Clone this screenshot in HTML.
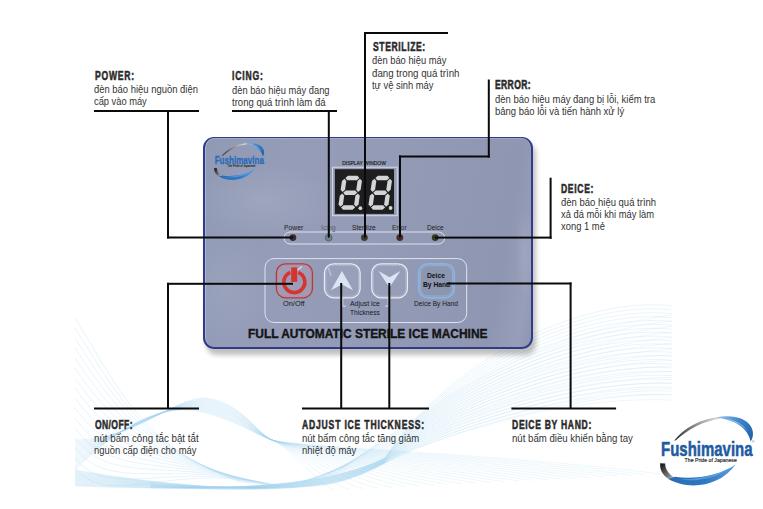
<!DOCTYPE html>
<html><head><meta charset="utf-8">
<style>
html,body{margin:0;padding:0;background:#fff;}
body{width:763px;height:509px;position:relative;overflow:hidden;font-family:"Liberation Sans",sans-serif;}
.abs{position:absolute;}
svg{position:absolute;left:0;top:0;}
.h{position:absolute;font-weight:bold;font-size:13px;line-height:13px;color:#2a2a2a;transform-origin:0 0;white-space:nowrap;letter-spacing:0;-webkit-text-stroke:0.55px #2a2a2a;}
.t{position:absolute;font-size:10.5px;line-height:10.5px;color:#333;transform-origin:0 0;white-space:nowrap;}
#panel{position:absolute;left:203px;top:136.9px;width:326px;height:209px;border:2px solid #303c88;border-top-width:1.5px;border-radius:11px;
 background:radial-gradient(ellipse 22% 18% at 18% 30%,rgba(255,255,255,0.10),rgba(255,255,255,0) 100%),radial-gradient(ellipse 14% 30% at 6% 72%,rgba(255,255,255,0.07),rgba(255,255,255,0) 100%),radial-gradient(ellipse 3% 22% at 98% 55%,rgba(255,255,255,0.10),rgba(255,255,255,0) 100%),linear-gradient(100deg,#919ab5 0%,#949cb7 25%,#939bb6 50%,#9098b3 72%,#8f96b2 88%,#989eb9 96%,#8e95b0 100%);
 box-shadow:3px 6px 5px rgba(0,0,0,0.25), inset 1px 0 0 rgba(190,198,240,0.55), inset 0 1px 0 rgba(190,198,240,0.35);}
.pl{position:absolute;white-space:nowrap;transform-origin:0 0;}
</style></head><body>

<!-- background waves -->
<svg id="waves" width="763" height="509" viewBox="0 0 763 509">
 <defs><clipPath id="wc"><rect x="74" y="280" width="600" height="211"/></clipPath></defs>
 <g fill="none" clip-path="url(#wc)" id="wg">
<path d="M75.0,318.0 C120.0,390.0 140.0,445.0 240.0,482.0" stroke="#9fd2ee" stroke-width="0.5" stroke-opacity="0.5"/>
<path d="M75.0,328.0 C119.3,398.0 142.0,446.0 242.7,482.3" stroke="#9fd2ee" stroke-width="0.5" stroke-opacity="0.5"/>
<path d="M75.0,338.0 C118.7,406.0 144.0,447.0 245.3,482.5" stroke="#9fd2ee" stroke-width="0.5" stroke-opacity="0.5"/>
<path d="M75.0,348.0 C118.0,414.0 146.0,448.0 248.0,482.8" stroke="#9fd2ee" stroke-width="0.5" stroke-opacity="0.5"/>
<path d="M75.0,358.0 C117.3,422.0 148.0,449.0 250.7,483.1" stroke="#9fd2ee" stroke-width="0.5" stroke-opacity="0.5"/>
<path d="M75.0,368.0 C116.7,430.0 150.0,450.0 253.3,483.3" stroke="#9fd2ee" stroke-width="0.5" stroke-opacity="0.5"/>
<path d="M75.0,378.0 C116.0,438.0 152.0,451.0 256.0,483.6" stroke="#9fd2ee" stroke-width="0.5" stroke-opacity="0.5"/>
<path d="M75.0,388.0 C115.3,446.0 154.0,452.0 258.7,483.9" stroke="#9fd2ee" stroke-width="0.5" stroke-opacity="0.5"/>
<path d="M75.0,398.0 C114.7,454.0 156.0,453.0 261.3,484.1" stroke="#9fd2ee" stroke-width="0.5" stroke-opacity="0.5"/>
<path d="M75.0,408.0 C114.0,462.0 158.0,454.0 264.0,484.4" stroke="#9fd2ee" stroke-width="0.5" stroke-opacity="0.5"/>
<path d="M75.0,418.0 C113.3,470.0 160.0,455.0 266.7,484.7" stroke="#9fd2ee" stroke-width="0.5" stroke-opacity="0.5"/>
<path d="M75.0,428.0 C112.7,478.0 162.0,456.0 269.3,484.9" stroke="#9fd2ee" stroke-width="0.5" stroke-opacity="0.5"/>
<path d="M75.0,438.0 C112.0,486.0 164.0,457.0 272.0,485.2" stroke="#9fd2ee" stroke-width="0.5" stroke-opacity="0.5"/>
<path d="M75.0,448.0 C111.3,494.0 166.0,458.0 274.7,485.5" stroke="#9fd2ee" stroke-width="0.5" stroke-opacity="0.5"/>
<path d="M75.0,458.0 C110.7,502.0 168.0,459.0 277.3,485.7" stroke="#9fd2ee" stroke-width="0.5" stroke-opacity="0.5"/>
<path d="M75.0,468.0 C110.0,510.0 170.0,460.0 280.0,486.0" stroke="#9fd2ee" stroke-width="0.5" stroke-opacity="0.5"/>
<path d="M75.0,440.0 C140.0,440.0 180.0,390.0 213.0,399.0 S255.0,431.5 272.0,440.0 C290.0,447.0 320.0,486.0 335.0,490.0" stroke="#9fd2ee" stroke-width="0.45" stroke-opacity="0.4"/>
<path d="M75.0,441.3 C140.0,438.5 180.0,390.6 213.0,399.7 S255.0,431.6 272.0,440.0 C290.0,447.0 328.7,484.7 349.1,489.3" stroke="#9fd2ee" stroke-width="0.45" stroke-opacity="0.4"/>
<path d="M75.0,442.6 C140.0,437.0 180.0,391.2 213.0,400.4 S255.0,431.8 272.0,440.0 C290.0,447.0 337.4,483.3 363.3,488.6" stroke="#9fd2ee" stroke-width="0.45" stroke-opacity="0.4"/>
<path d="M75.0,443.9 C140.0,435.6 180.0,391.8 213.0,401.1 S255.0,431.9 272.0,440.0 C290.0,447.0 346.1,482.0 377.4,487.9" stroke="#9fd2ee" stroke-width="0.45" stroke-opacity="0.4"/>
<path d="M75.0,445.2 C140.0,434.1 180.0,392.4 213.0,401.8 S255.0,432.0 272.0,440.0 C290.0,447.0 354.8,480.6 391.5,487.2" stroke="#9fd2ee" stroke-width="0.45" stroke-opacity="0.4"/>
<path d="M75.0,446.5 C140.0,432.6 180.0,393.0 213.0,402.5 S255.0,432.2 272.0,440.0 C290.0,447.0 363.5,479.3 405.7,486.5" stroke="#9fd2ee" stroke-width="0.45" stroke-opacity="0.4"/>
<path d="M75.0,447.8 C140.0,431.1 180.0,393.7 213.0,403.2 S255.0,432.3 272.0,440.0 C290.0,447.0 372.2,477.9 419.8,485.8" stroke="#9fd2ee" stroke-width="0.45" stroke-opacity="0.4"/>
<path d="M75.0,449.1 C140.0,429.7 180.0,394.3 213.0,403.9 S255.0,432.4 272.0,440.0 C290.0,447.0 380.9,476.6 433.9,485.1" stroke="#9fd2ee" stroke-width="0.45" stroke-opacity="0.4"/>
<path d="M75.0,450.4 C140.0,428.2 180.0,394.9 213.0,404.6 S255.0,432.5 272.0,440.0 C290.0,447.0 389.6,475.2 448.0,484.4" stroke="#9fd2ee" stroke-width="0.45" stroke-opacity="0.4"/>
<path d="M75.0,451.7 C140.0,426.7 180.0,395.5 213.0,405.3 S255.0,432.7 272.0,440.0 C290.0,447.0 398.3,473.9 462.2,483.7" stroke="#9fd2ee" stroke-width="0.45" stroke-opacity="0.4"/>
<path d="M75.0,453.0 C140.0,425.2 180.0,396.1 213.0,406.0 S255.0,432.8 272.0,440.0 C290.0,447.0 407.0,472.5 476.3,483.0" stroke="#9fd2ee" stroke-width="0.45" stroke-opacity="0.4"/>
<path d="M75.0,454.3 C140.0,423.7 180.0,396.7 213.0,406.7 S255.0,432.9 272.0,440.0 C290.0,447.0 415.7,471.2 490.4,482.3" stroke="#9fd2ee" stroke-width="0.45" stroke-opacity="0.4"/>
<path d="M75.0,455.7 C140.0,422.3 180.0,397.3 213.0,407.3 S255.0,433.1 272.0,440.0 C290.0,447.0 424.3,469.8 504.6,481.7" stroke="#9fd2ee" stroke-width="0.45" stroke-opacity="0.4"/>
<path d="M75.0,457.0 C140.0,420.8 180.0,397.9 213.0,408.0 S255.0,433.2 272.0,440.0 C290.0,447.0 433.0,468.5 518.7,481.0" stroke="#9fd2ee" stroke-width="0.45" stroke-opacity="0.4"/>
<path d="M75.0,458.3 C140.0,419.3 180.0,398.5 213.0,408.7 S255.0,433.3 272.0,440.0 C290.0,447.0 441.7,467.1 532.8,480.3" stroke="#9fd2ee" stroke-width="0.45" stroke-opacity="0.4"/>
<path d="M75.0,459.6 C140.0,417.8 180.0,399.1 213.0,409.4 S255.0,433.5 272.0,440.0 C290.0,447.0 450.4,465.8 547.0,479.6" stroke="#9fd2ee" stroke-width="0.45" stroke-opacity="0.4"/>
<path d="M75.0,460.9 C140.0,416.3 180.0,399.7 213.0,410.1 S255.0,433.6 272.0,440.0 C290.0,447.0 459.1,464.4 561.1,478.9" stroke="#9fd2ee" stroke-width="0.45" stroke-opacity="0.4"/>
<path d="M75.0,462.2 C140.0,414.9 180.0,400.3 213.0,410.8 S255.0,433.7 272.0,440.0 C290.0,447.0 467.8,463.1 575.2,478.2" stroke="#9fd2ee" stroke-width="0.45" stroke-opacity="0.4"/>
<path d="M75.0,463.5 C140.0,413.4 180.0,401.0 213.0,411.5 S255.0,433.8 272.0,440.0 C290.0,447.0 476.5,461.7 589.3,477.5" stroke="#9fd2ee" stroke-width="0.45" stroke-opacity="0.4"/>
<path d="M75.0,464.8 C140.0,411.9 180.0,401.6 213.0,412.2 S255.0,434.0 272.0,440.0 C290.0,447.0 485.2,460.4 603.5,476.8" stroke="#9fd2ee" stroke-width="0.45" stroke-opacity="0.4"/>
<path d="M75.0,466.1 C140.0,410.4 180.0,402.2 213.0,412.9 S255.0,434.1 272.0,440.0 C290.0,447.0 493.9,459.0 617.6,476.1" stroke="#9fd2ee" stroke-width="0.45" stroke-opacity="0.4"/>
<path d="M75.0,467.4 C140.0,409.0 180.0,402.8 213.0,413.6 S255.0,434.2 272.0,440.0 C290.0,447.0 502.6,457.7 631.7,475.4" stroke="#9fd2ee" stroke-width="0.45" stroke-opacity="0.4"/>
<path d="M75.0,468.7 C140.0,407.5 180.0,403.4 213.0,414.3 S255.0,434.4 272.0,440.0 C290.0,447.0 511.3,456.3 645.9,474.7" stroke="#9fd2ee" stroke-width="0.45" stroke-opacity="0.4"/>
<path d="M75.0,470.0 C140.0,406.0 180.0,404.0 213.0,415.0 S255.0,434.5 272.0,440.0 C290.0,447.0 520.0,455.0 660.0,474.0" stroke="#9fd2ee" stroke-width="0.45" stroke-opacity="0.4"/>
<path d="M75.0,470.0 C180.0,488.0 270.0,493.0 330.0,484.0 C350.0,480.0 368.0,472.0 385.0,463.0 C455.0,427.0 590.0,391.0 672.0,395.0" stroke="#9fd2ee" stroke-width="0.5" stroke-opacity="0.45"/>
<path d="M75.0,470.7 C180.0,488.1 270.0,492.8 330.0,483.7 C350.0,479.7 368.0,471.7 385.0,462.8 C455.0,423.7 590.0,386.9 672.0,391.1" stroke="#9fd2ee" stroke-width="0.5" stroke-opacity="0.45"/>
<path d="M75.0,471.4 C180.0,488.2 270.0,492.7 330.0,483.3 C350.0,479.3 368.0,471.5 385.0,462.6 C455.0,420.5 590.0,382.7 672.0,387.3" stroke="#9fd2ee" stroke-width="0.5" stroke-opacity="0.45"/>
<path d="M75.0,472.1 C180.0,488.3 270.0,492.5 330.0,483.0 C350.0,479.0 368.0,471.2 385.0,462.3 C455.0,417.2 590.0,378.6 672.0,383.4" stroke="#9fd2ee" stroke-width="0.5" stroke-opacity="0.45"/>
<path d="M75.0,472.8 C180.0,488.3 270.0,492.3 330.0,482.6 C350.0,478.6 368.0,471.0 385.0,462.1 C455.0,414.0 590.0,374.5 672.0,379.5" stroke="#9fd2ee" stroke-width="0.5" stroke-opacity="0.45"/>
<path d="M75.0,473.5 C180.0,488.4 270.0,492.1 330.0,482.3 C350.0,478.3 368.0,470.7 385.0,461.9 C455.0,410.7 590.0,370.3 672.0,375.7" stroke="#9fd2ee" stroke-width="0.5" stroke-opacity="0.45"/>
<path d="M75.0,474.2 C180.0,488.5 270.0,492.0 330.0,481.9 C350.0,477.9 368.0,470.4 385.0,461.7 C455.0,407.4 590.0,366.2 672.0,371.8" stroke="#9fd2ee" stroke-width="0.5" stroke-opacity="0.45"/>
<path d="M75.0,474.9 C180.0,488.6 270.0,491.8 330.0,481.6 C350.0,477.6 368.0,470.2 385.0,461.5 C455.0,404.2 590.0,362.1 672.0,367.9" stroke="#9fd2ee" stroke-width="0.5" stroke-opacity="0.45"/>
<path d="M75.0,475.6 C180.0,488.7 270.0,491.6 330.0,481.2 C350.0,477.2 368.0,469.9 385.0,461.3 C455.0,400.9 590.0,358.0 672.0,364.0" stroke="#9fd2ee" stroke-width="0.5" stroke-opacity="0.45"/>
<path d="M75.0,476.3 C180.0,488.8 270.0,491.4 330.0,480.9 C350.0,476.9 368.0,469.7 385.0,461.0 C455.0,397.7 590.0,353.8 672.0,360.2" stroke="#9fd2ee" stroke-width="0.5" stroke-opacity="0.45"/>
<path d="M75.0,477.0 C180.0,488.9 270.0,491.3 330.0,480.5 C350.0,476.5 368.0,469.4 385.0,460.8 C455.0,394.4 590.0,349.7 672.0,356.3" stroke="#9fd2ee" stroke-width="0.5" stroke-opacity="0.45"/>
<path d="M75.0,477.7 C180.0,489.0 270.0,491.1 330.0,480.2 C350.0,476.2 368.0,469.1 385.0,460.6 C455.0,391.1 590.0,345.6 672.0,352.4" stroke="#9fd2ee" stroke-width="0.5" stroke-opacity="0.45"/>
<path d="M75.0,478.3 C180.0,489.0 270.0,490.9 330.0,479.8 C350.0,475.8 368.0,468.9 385.0,460.4 C455.0,387.9 590.0,341.4 672.0,348.6" stroke="#9fd2ee" stroke-width="0.5" stroke-opacity="0.45"/>
<path d="M75.0,479.0 C180.0,489.1 270.0,490.7 330.0,479.5 C350.0,475.5 368.0,468.6 385.0,460.2 C455.0,384.6 590.0,337.3 672.0,344.7" stroke="#9fd2ee" stroke-width="0.5" stroke-opacity="0.45"/>
<path d="M75.0,479.7 C180.0,489.2 270.0,490.6 330.0,479.1 C350.0,475.1 368.0,468.3 385.0,460.0 C455.0,381.3 590.0,333.2 672.0,340.8" stroke="#9fd2ee" stroke-width="0.5" stroke-opacity="0.45"/>
<path d="M75.0,480.4 C180.0,489.3 270.0,490.4 330.0,478.8 C350.0,474.8 368.0,468.1 385.0,459.7 C455.0,378.1 590.0,329.0 672.0,337.0" stroke="#9fd2ee" stroke-width="0.5" stroke-opacity="0.45"/>
<path d="M75.0,481.1 C180.0,489.4 270.0,490.2 330.0,478.4 C350.0,474.4 368.0,467.8 385.0,459.5 C455.0,374.8 590.0,324.9 672.0,333.1" stroke="#9fd2ee" stroke-width="0.5" stroke-opacity="0.45"/>
<path d="M75.0,481.8 C180.0,489.5 270.0,490.0 330.0,478.1 C350.0,474.1 368.0,467.6 385.0,459.3 C455.0,371.6 590.0,320.8 672.0,329.2" stroke="#9fd2ee" stroke-width="0.5" stroke-opacity="0.45"/>
<path d="M75.0,482.5 C180.0,489.6 270.0,489.9 330.0,477.7 C350.0,473.7 368.0,467.3 385.0,459.1 C455.0,368.3 590.0,316.7 672.0,325.3" stroke="#9fd2ee" stroke-width="0.5" stroke-opacity="0.45"/>
<path d="M75.0,483.2 C180.0,489.7 270.0,489.7 330.0,477.4 C350.0,473.4 368.0,467.0 385.0,458.9 C455.0,365.0 590.0,312.5 672.0,321.5" stroke="#9fd2ee" stroke-width="0.5" stroke-opacity="0.45"/>
<path d="M75.0,483.9 C180.0,489.7 270.0,489.5 330.0,477.0 C350.0,473.0 368.0,466.8 385.0,458.7 C455.0,361.8 590.0,308.4 672.0,317.6" stroke="#9fd2ee" stroke-width="0.5" stroke-opacity="0.45"/>
<path d="M75.0,484.6 C180.0,489.8 270.0,489.3 330.0,476.7 C350.0,472.7 368.0,466.5 385.0,458.4 C455.0,358.5 590.0,304.3 672.0,313.7" stroke="#9fd2ee" stroke-width="0.5" stroke-opacity="0.45"/>
<path d="M75.0,485.3 C180.0,489.9 270.0,489.2 330.0,476.3 C350.0,472.3 368.0,466.3 385.0,458.2 C455.0,355.3 590.0,300.1 672.0,309.9" stroke="#9fd2ee" stroke-width="0.5" stroke-opacity="0.45"/>
<path d="M75.0,486.0 C180.0,490.0 270.0,489.0 330.0,476.0 C350.0,472.0 368.0,466.0 385.0,458.0 C455.0,352.0 590.0,296.0 672.0,306.0" stroke="#9fd2ee" stroke-width="0.5" stroke-opacity="0.45"/>
<path d="M300.0,482.0 C420.0,455.0 520.0,395.0 672.0,400.0" stroke="#9fd2ee" stroke-width="0.45" stroke-opacity="0.4"/>
<path d="M302.7,481.2 C420.0,452.3 520.0,391.0 672.0,394.3" stroke="#9fd2ee" stroke-width="0.45" stroke-opacity="0.4"/>
<path d="M305.3,480.4 C420.0,449.7 520.0,387.0 672.0,388.7" stroke="#9fd2ee" stroke-width="0.45" stroke-opacity="0.4"/>
<path d="M308.0,479.6 C420.0,447.0 520.0,383.0 672.0,383.0" stroke="#9fd2ee" stroke-width="0.45" stroke-opacity="0.4"/>
<path d="M310.7,478.8 C420.0,444.3 520.0,379.0 672.0,377.3" stroke="#9fd2ee" stroke-width="0.45" stroke-opacity="0.4"/>
<path d="M313.3,478.0 C420.0,441.7 520.0,375.0 672.0,371.7" stroke="#9fd2ee" stroke-width="0.45" stroke-opacity="0.4"/>
<path d="M316.0,477.2 C420.0,439.0 520.0,371.0 672.0,366.0" stroke="#9fd2ee" stroke-width="0.45" stroke-opacity="0.4"/>
<path d="M318.7,476.4 C420.0,436.3 520.0,367.0 672.0,360.3" stroke="#9fd2ee" stroke-width="0.45" stroke-opacity="0.4"/>
<path d="M321.3,475.6 C420.0,433.7 520.0,363.0 672.0,354.7" stroke="#9fd2ee" stroke-width="0.45" stroke-opacity="0.4"/>
<path d="M324.0,474.8 C420.0,431.0 520.0,359.0 672.0,349.0" stroke="#9fd2ee" stroke-width="0.45" stroke-opacity="0.4"/>
<path d="M326.7,474.0 C420.0,428.3 520.0,355.0 672.0,343.3" stroke="#9fd2ee" stroke-width="0.45" stroke-opacity="0.4"/>
<path d="M329.3,473.2 C420.0,425.7 520.0,351.0 672.0,337.7" stroke="#9fd2ee" stroke-width="0.45" stroke-opacity="0.4"/>
<path d="M332.0,472.4 C420.0,423.0 520.0,347.0 672.0,332.0" stroke="#9fd2ee" stroke-width="0.45" stroke-opacity="0.4"/>
<path d="M334.7,471.6 C420.0,420.3 520.0,343.0 672.0,326.3" stroke="#9fd2ee" stroke-width="0.45" stroke-opacity="0.4"/>
<path d="M337.3,470.8 C420.0,417.7 520.0,339.0 672.0,320.7" stroke="#9fd2ee" stroke-width="0.45" stroke-opacity="0.4"/>
<path d="M340.0,470.0 C420.0,415.0 520.0,335.0 672.0,315.0" stroke="#9fd2ee" stroke-width="0.45" stroke-opacity="0.4"/>
<path d="M150.0,484.0 C220.0,490.0 280.0,493.0 330.0,482.0 C350.0,480.0 368.0,472.0 385.0,463.0" stroke="#8cc8ec" stroke-width="0.6" stroke-opacity="0.25"/>
<path d="M150.0,484.6 C220.0,490.0 280.0,492.6 330.0,480.9 C350.0,478.9 368.0,471.1 385.0,462.3" stroke="#8cc8ec" stroke-width="0.6" stroke-opacity="0.25"/>
<path d="M150.0,485.1 C220.0,490.0 280.0,492.1 330.0,479.7 C350.0,477.7 368.0,470.3 385.0,461.6" stroke="#8cc8ec" stroke-width="0.6" stroke-opacity="0.25"/>
<path d="M150.0,485.7 C220.0,490.0 280.0,491.7 330.0,478.6 C350.0,476.6 368.0,469.4 385.0,460.9" stroke="#8cc8ec" stroke-width="0.6" stroke-opacity="0.25"/>
<path d="M150.0,486.3 C220.0,490.0 280.0,491.3 330.0,477.4 C350.0,475.4 368.0,468.6 385.0,460.1" stroke="#8cc8ec" stroke-width="0.6" stroke-opacity="0.25"/>
<path d="M150.0,486.9 C220.0,490.0 280.0,490.9 330.0,476.3 C350.0,474.3 368.0,467.7 385.0,459.4" stroke="#8cc8ec" stroke-width="0.6" stroke-opacity="0.25"/>
<path d="M150.0,487.4 C220.0,490.0 280.0,490.4 330.0,475.1 C350.0,473.1 368.0,466.9 385.0,458.7" stroke="#8cc8ec" stroke-width="0.6" stroke-opacity="0.25"/>
<path d="M150.0,488.0 C220.0,490.0 280.0,490.0 330.0,474.0 C350.0,472.0 368.0,466.0 385.0,458.0" stroke="#8cc8ec" stroke-width="0.6" stroke-opacity="0.25"/>

</g>
</svg>

<div id="panel"></div>

<!-- panel contents -->
<svg width="763" height="509" viewBox="0 0 763 509" id="pc">
 <!-- display -->
 <text x="342.2" y="164.8" font-family="Liberation Sans" font-size="4.8" fill="#2a2a30" stroke="#2a2a30" stroke-width="0.2" textLength="43.7" lengthAdjust="spacingAndGlyphs">DISPLAY WINDOW</text>
 <rect x="332.6" y="167.2" width="64.6" height="48.5" fill="none" stroke="#d6dbe8" stroke-width="1"/>
 <rect x="334.9" y="169.2" width="59.1" height="44.7" fill="#1e1e1f"/>
 <g id="digits" fill="#d2d4d7">
<polygon points="345.38,178.00 347.90,175.80 357.50,175.80 359.38,178.00 356.86,180.20 347.26,180.20"/>
<polygon points="343.24,192.75 345.76,190.55 355.36,190.55 357.24,192.75 354.72,194.95 345.12,194.95"/>
<polygon points="341.10,207.50 343.62,205.30 353.22,205.30 355.10,207.50 352.58,209.70 342.98,209.70"/>
<polygon points="344.46,178.80 346.34,181.00 345.07,189.75 342.55,191.95 340.67,189.75 341.94,181.00"/>
<polygon points="360.06,178.80 361.94,181.00 360.67,189.75 358.15,191.95 356.27,189.75 357.54,181.00"/>
<polygon points="342.32,193.55 344.20,195.75 342.94,204.50 340.42,206.70 338.54,204.50 339.80,195.75"/>
<polygon points="357.92,193.55 359.80,195.75 358.54,204.50 356.02,206.70 354.13,204.50 355.40,195.75"/>
<polygon points="375.38,178.00 377.90,175.80 387.50,175.80 389.38,178.00 386.86,180.20 377.26,180.20"/>
<polygon points="373.24,192.75 375.76,190.55 385.36,190.55 387.24,192.75 384.72,194.95 375.12,194.95"/>
<polygon points="371.10,207.50 373.62,205.30 383.22,205.30 385.10,207.50 382.58,209.70 372.98,209.70"/>
<polygon points="374.46,178.80 376.34,181.00 375.07,189.75 372.55,191.95 370.67,189.75 371.94,181.00"/>
<polygon points="390.06,178.80 391.94,181.00 390.67,189.75 388.15,191.95 386.27,189.75 387.54,181.00"/>
<polygon points="372.32,193.55 374.20,195.75 372.94,204.50 370.42,206.70 368.54,204.50 369.80,195.75"/>
<polygon points="387.92,193.55 389.80,195.75 388.54,204.50 386.02,206.70 384.13,204.50 385.40,195.75"/>
<circle cx="360.4" cy="208.2" r="1.9"/>
<circle cx="390.6" cy="208.0" r="1.9"/>
</g>
 <!-- LED pill -->
 <rect x="284" y="232" width="160.6" height="12" rx="6" ry="6" fill="none" stroke="#dfe3ee" stroke-width="1"/>
 <circle cx="292.9" cy="237.6" r="3.4" fill="#3b2a32"/>
 <circle cx="328.7" cy="237.6" r="3.4" fill="#72828c" stroke="#4e5a64" stroke-width="0.8"/>
 <circle cx="364.4" cy="237.6" r="3.4" fill="#3c3a33"/>
 <circle cx="399.8" cy="237.6" r="3.4" fill="#4a2a2a"/>
 <circle cx="435.2" cy="237.6" r="3.4" fill="#343a22"/>
 <!-- button group -->
 <rect x="265" y="258.6" width="201.7" height="63.9" rx="9" ry="9" fill="none" stroke="#dfe3ee" stroke-width="1"/>
 <!-- power button -->
 <rect x="276.4" y="263.8" width="36" height="34" rx="9" fill="#b39fb5" fill-opacity="0.35" stroke="#b8383c" stroke-width="1.3"/>
 <rect x="277.9" y="265.3" width="33" height="31" rx="7.6" fill="none" stroke="#e07a7c" stroke-opacity="0.55" stroke-width="0.8"/>
 <path d="M290.3 272.4 A 10.5 10.5 0 1 0 298.3 272.4" fill="none" stroke="#d63430" stroke-width="3.7"/>
 <rect x="291.2" y="267.4" width="6" height="14.5" fill="#d8342f"/>
 <path d="M297.5 270 L302 266.5" stroke="#f4e6ee" stroke-width="1.4" stroke-opacity="0.8"/>
 <!-- up button -->
 <rect x="324.5" y="263.8" width="35.6" height="34" rx="9" fill="#ffffff" fill-opacity="0.05" stroke="#e9ecf4" stroke-width="1.3"/>
 <rect x="326" y="265.3" width="32.6" height="31" rx="7.6" fill="none" stroke="#c4cadb" stroke-opacity="0.6" stroke-width="0.8"/>
 <path d="M341.9 271.1 L353 290.3 L341.9 284.6 L331 290.3 Z" fill="#dbe4f5"/>
 <path d="M328.5 268 L331 276" stroke="#ffffff" stroke-opacity="0.35" stroke-width="1.5"/>
 <!-- down button -->
 <rect x="371.8" y="263.8" width="35.6" height="34" rx="9" fill="#ffffff" fill-opacity="0.05" stroke="#e9ecf4" stroke-width="1.3"/>
 <rect x="373.3" y="265.3" width="32.6" height="31" rx="7.6" fill="none" stroke="#c4cadb" stroke-opacity="0.6" stroke-width="0.8"/>
 <path d="M378.5 271.1 L389.5 277.3 L400.4 271.1 L389.5 287.4 Z" fill="#dbe4f5"/>
 <!-- deice by hand button -->
 <rect x="418.8" y="263.8" width="35.4" height="34" rx="9" fill="#8a93ad" fill-opacity="0.5" stroke="#86b6e4" stroke-width="1.8"/>
 <rect x="420.6" y="265.6" width="31.8" height="30.4" rx="7.4" fill="none" stroke="#b9d6f0" stroke-opacity="0.5" stroke-width="0.7"/>
 <!-- brackets -->
 <path d="M342.7 297.8 L342.7 306.2 L345.8 306.2" stroke="#e6e9f2" stroke-width="0.9" fill="none"/>
 <path d="M388.2 297.8 L388.2 306.2 L385.2 306.2" stroke="#e6e9f2" stroke-width="0.9" fill="none"/>
</svg>

<!-- panel labels -->
<div class="pl" style="left:283.80px;top:223.77px;font-size:7px;line-height:7px;color:#1e1e24;transform:scaleX(0.9673);">Power</div>
<div class="pl" style="left:321.40px;top:223.77px;font-size:7px;line-height:7px;color:#5c6270;transform:scaleX(0.9932);">Icing</div>
<div class="pl" style="left:352.20px;top:223.77px;font-size:7px;line-height:7px;color:#1e1e24;transform:scaleX(0.9558);">Sterilize</div>
<div class="pl" style="left:392.20px;top:223.77px;font-size:7px;line-height:7px;color:#2a2a30;transform:scaleX(0.9453);">Error</div>
<div class="pl" style="left:427.00px;top:223.77px;font-size:7px;line-height:7px;color:#1e1e24;transform:scaleX(0.9330);">Deice</div>
<div class="pl" style="left:283.00px;top:300.27px;font-size:7px;line-height:7px;color:#1a1a20;transform:scaleX(1.0560);">On/Off</div>
<div class="pl" style="left:350.30px;top:300.27px;font-size:7px;line-height:7px;color:#1a1a20;transform:scaleX(0.9852);">Adjust ice</div>
<div class="pl" style="left:350.30px;top:308.57px;font-size:7px;line-height:7px;color:#1a1a20;transform:scaleX(0.9492);">Thickness</div>
<div class="pl" style="left:414.00px;top:300.17px;font-size:7px;line-height:7px;color:#1a1a20;transform:scaleX(0.9422);">Deice By Hand</div>
<div class="pl" style="left:427.30px;top:272.07px;font-size:7px;line-height:7px;font-weight:bold;color:#111;transform:scaleX(0.9572);">Deice</div>
<div class="pl" style="left:422.70px;top:281.17px;font-size:7px;line-height:7px;font-weight:bold;color:#111;transform:scaleX(0.9542);">By Hand</div>
<div class="pl" style="left:247.50px;top:327.54px;font-size:12px;line-height:12px;font-weight:bold;-webkit-text-stroke:0.35px #111;color:#151515;transform:scaleX(0.9942);">FULL AUTOMATIC STERILE ICE MACHINE</div>

<!-- connector lines -->
<svg width="763" height="509" viewBox="0 0 763 509" id="lines">
 <g fill="#0a0a0a">
  <!-- POWER -->
  <rect x="94" y="110" width="105" height="2"/>
  <rect x="167" y="110" width="2" height="128.5"/>
  <rect x="167" y="236.5" width="126" height="2"/>
  <!-- ICING -->
  <rect x="232" y="110" width="105" height="2"/>
  <rect x="327.8" y="110" width="2" height="127.6"/>
  <!-- STERILIZE -->
  <rect x="364" y="32" width="84" height="2"/>
  <rect x="364" y="32" width="2" height="205.6"/>
  <!-- ERROR -->
  <rect x="487.8" y="79.5" width="2" height="78"/>
  <rect x="399" y="155.5" width="90.8" height="2"/>
  <rect x="399" y="155.5" width="2" height="82"/>
  <!-- DEICE -->
  <rect x="549.6" y="177.7" width="2" height="61"/>
  <rect x="435" y="236.6" width="116.6" height="2"/>
  <!-- ON/OFF -->
  <rect x="94" y="407.5" width="105" height="2"/>
  <rect x="167" y="282.8" width="2" height="126"/>
  <rect x="167" y="282.8" width="126" height="2"/>
  <!-- ADJUST -->
  <rect x="302" y="407.5" width="127" height="2"/>
  <rect x="340.2" y="283" width="2" height="126"/>
  <rect x="388.3" y="283" width="2" height="126"/>
  <!-- DEICE BY HAND -->
  <rect x="511.4" y="407.5" width="104.7" height="2"/>
  <rect x="569.6" y="282.5" width="2" height="126"/>
  <rect x="446.5" y="282.5" width="125" height="2"/>
 </g>
</svg>

<!-- annotation text -->
<div class="h" style="left:95.00px;top:69.00px;transform:scaleX(0.6600);letter-spacing:1.128px;">POWER:</div>
<div class="t" style="left:94.20px;top:84.41px;transform:scaleX(0.8988);">đèn báo hiệu nguồn điện</div>
<div class="t" style="left:94.20px;top:96.31px;transform:scaleX(0.8866);">cấp vào máy</div>
<div class="h" style="left:231.60px;top:69.00px;transform:scaleX(0.6600);letter-spacing:1.243px;">ICING:</div>
<div class="t" style="left:231.60px;top:84.71px;transform:scaleX(0.8884);">đèn báo hiệu máy đang</div>
<div class="t" style="left:231.60px;top:96.51px;transform:scaleX(0.9109);">trong quá trình làm đá</div>
<div class="h" style="left:372.60px;top:40.00px;transform:scaleX(0.6600);letter-spacing:0.921px;">STERILIZE:</div>
<div class="t" style="left:372.40px;top:55.41px;transform:scaleX(0.8910);">đèn báo hiệu máy</div>
<div class="t" style="left:372.40px;top:67.61px;transform:scaleX(0.9249);">đang trong quá trình</div>
<div class="t" style="left:372.40px;top:79.81px;transform:scaleX(0.8926);">tự vệ sinh máy</div>
<div class="h" style="left:495.40px;top:78.40px;transform:scaleX(0.6600);letter-spacing:0.528px;">ERROR:</div>
<div class="t" style="left:495.20px;top:93.51px;transform:scaleX(0.9034);">đèn báo hiệu máy đang bị lỗi, kiểm tra</div>
<div class="t" style="left:495.20px;top:105.91px;transform:scaleX(0.9032);">bảng báo lỗi và tiến hành xử lý</div>
<div class="h" style="left:560.80px;top:181.50px;transform:scaleX(0.6600);letter-spacing:1.008px;">DEICE:</div>
<div class="t" style="left:560.80px;top:196.91px;transform:scaleX(0.9049);">đèn báo hiệu quá trình</div>
<div class="t" style="left:560.80px;top:208.91px;transform:scaleX(0.8904);">xả đá mỗi khi máy làm</div>
<div class="t" style="left:560.80px;top:221.01px;transform:scaleX(0.8950);">xong 1 mẻ</div>
<div class="h" style="left:94.90px;top:417.70px;transform:scaleX(0.6600);letter-spacing:0.561px;">ON/OFF:</div>
<div class="t" style="left:94.20px;top:432.81px;transform:scaleX(0.9285);">nút bấm công tắc bật tắt</div>
<div class="t" style="left:94.20px;top:444.81px;transform:scaleX(0.8951);">nguồn cấp điện cho máy</div>
<div class="h" style="left:302.30px;top:417.80px;transform:scaleX(0.6600);letter-spacing:1.232px;">ADJUST ICE THICKNESS:</div>
<div class="t" style="left:302.20px;top:432.91px;transform:scaleX(0.9043);">nút bấm công tắc tăng giảm</div>
<div class="t" style="left:302.20px;top:444.81px;transform:scaleX(0.9035);">nhiệt độ máy</div>
<div class="h" style="left:511.90px;top:417.80px;transform:scaleX(0.6600);letter-spacing:1.039px;">DEICE BY HAND:</div>
<div class="t" style="left:511.60px;top:432.91px;transform:scaleX(0.9163);">nút bấm điều khiển bằng tay</div>

<!-- big logo -->
<svg width="763" height="509" viewBox="0 0 763 509" id="blogo">
 <defs>
  <linearGradient id="lgGray" x1="674" y1="440" x2="722" y2="417" gradientUnits="userSpaceOnUse">
   <stop offset="0" stop-color="#2a2a2a"/><stop offset="0.55" stop-color="#9a9a9a"/><stop offset="1" stop-color="#e8e8e8"/>
  </linearGradient>
  <linearGradient id="lgBlueT" x1="720" y1="416" x2="752" y2="440" gradientUnits="userSpaceOnUse">
   <stop offset="0" stop-color="#8dbbe6"/><stop offset="0.45" stop-color="#3f86cf"/><stop offset="1" stop-color="#1f5fa8"/>
  </linearGradient>
  <linearGradient id="lgBlk" x1="661" y1="463" x2="676" y2="481" gradientUnits="userSpaceOnUse">
   <stop offset="0" stop-color="#111"/><stop offset="0.6" stop-color="#777"/><stop offset="1" stop-color="#e0e0e0"/>
  </linearGradient>
  <linearGradient id="lgBlueB" x1="672" y1="482" x2="735" y2="465" gradientUnits="userSpaceOnUse">
   <stop offset="0" stop-color="#2a6cb6"/><stop offset="0.5" stop-color="#2f78c4"/><stop offset="1" stop-color="#5c9fe0"/>
  </linearGradient>
  <g id="logo">
   <path d="M674.2,440.6 C684,428 700,419 721,416.6 L721,418.6 C703,421 688,429.5 675.6,440.6 Z" fill="url(#lgGray)"/>
   <path d="M716,417.4 C734,413.8 750,419 752.6,430.5 C753.6,435 752.6,438.5 750.6,441.5 C749.2,434.5 744.5,427.5 735,422.6 C729.5,420 723,418.3 716,417.4 Z" fill="url(#lgBlueT)"/>
   <path d="M724,418.2 C735,419.6 744,424.6 748,431.5 C745,427.8 739.6,423.8 733,421.6 C730,420.4 727,419.3 724,418.2 Z" fill="#a8cdf0" fill-opacity="0.8"/>
   <path d="M660.2,463.2 C659.4,470.8 663.8,477 672.5,481.2 L677,479 C669.5,475.3 665.2,470.3 665.2,463.6 Z" fill="url(#lgBlk)"/>
   <path d="M668.5,479 C688,490.5 720,487 735.5,464.5 C719,476 694,479.8 675,476.8 Z" fill="url(#lgBlueB)"/>
   <path d="M680,479.6 C697,482 716,478.5 731,467.5 C716,475.5 698,479.2 680,479.6 Z" fill="#6aa6e0" fill-opacity="0.7"/>
   <text x="661" y="455.6" font-family="Liberation Sans" font-weight="bold" font-size="20.6" style="fill:var(--lc,#1e5ca2);stroke:var(--lc,#1e5ca2)" stroke-width="0.55" textLength="91.6" lengthAdjust="spacingAndGlyphs">Fushimavina</text>
   <text x="684.6" y="461.9" font-family="Liberation Sans" font-size="5.6" fill="#1a1a1a" stroke="#1a1a1a" stroke-width="0.15" textLength="52.2" lengthAdjust="spacingAndGlyphs">The Pride of Japanese</text>
   <text x="751.8" y="443" font-family="Liberation Sans" font-size="3.6" fill="#666">®</text>
  </g>
 </defs>
 <use href="#logo"/>
 <use href="#logo" style="--lc:#2a6cb6" transform="translate(214.7,164) scale(0.537) translate(-661,-455.6)"/>
</svg>

</body></html>
